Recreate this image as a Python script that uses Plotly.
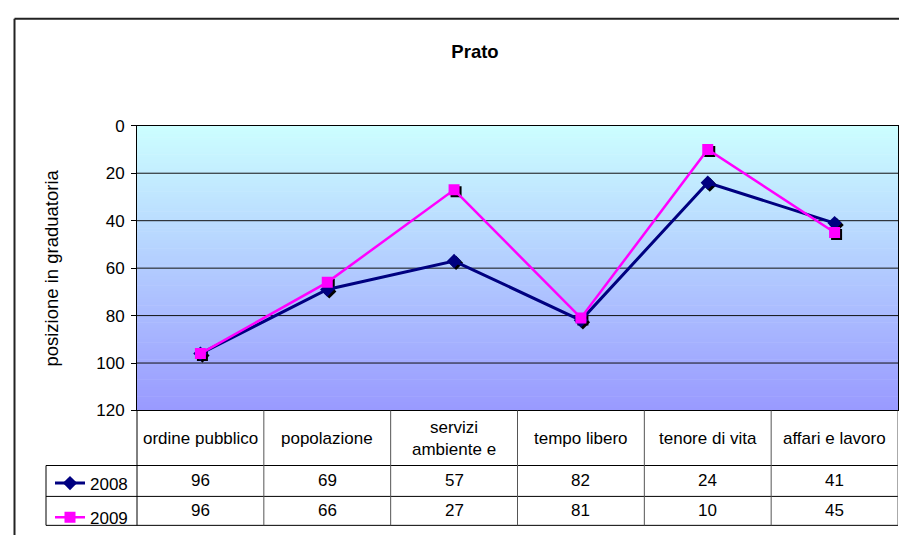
import plotly.graph_objects as go

# Data
categories = ["ordine pubblico", "popolazione", "servizi ambiente e",
              "tempo libero", "tenore di vita", "affari e lavoro"]
header_labels = ["ordine pubblico", "popolazione", "servizi<br>ambiente e",
                 "tempo libero", "tenore di vita", "affari e lavoro"]
years = ["2008", "2009"]
pos_2008 = [96, 69, 57, 82, 24, 41]
pos_2009 = [96, 66, 27, 81, 10, 45]
y_ticks = [0, 20, 40, 60, 80, 100, 120]

W, H = 899, 545
FONT = "Liberation Sans, Arial, sans-serif"
FS = 17  # base font size

# plot area and table geometry (pixels)
L, R, T, B = 137, 898, 121, 416
ROW1, ROW2, ROW3 = 473, 505, 535
TABLE_LEFT = 46
SHADOW = 2  # px offset of marker shadows


def px(x):
    return x / W


def py(y):
    return 1 - y / H


x_range = [-0.5, len(categories) - 0.5]
y_range = [120, 0]
dx = (x_range[1] - x_range[0]) / (R - L) * SHADOW
dy = (y_range[0] - y_range[1]) / (B - T) * SHADOW

fig = go.Figure()

series = [
    (years[0], pos_2008, "#000080", "diamond", 11, 3),
    (years[1], pos_2009, "#FF00FF", "square", 11, 2.5),
]

# shadows first, on the lower axes
for name, vals, color, symbol, size, lw in series:
    fig.add_trace(go.Scatter(
        x=categories, y=vals, mode="markers", showlegend=False, hoverinfo="skip",
        marker=dict(symbol=symbol, size=size, color="black"),
        xaxis="x", yaxis="y"))

for name, vals, color, symbol, size, lw in series:
    fig.add_trace(go.Scatter(
        x=categories, y=vals, mode="lines+markers", name=name, legendgroup=name,
        line=dict(color=color, width=lw),
        marker=dict(symbol=symbol, size=size, color=color),
        xaxis="x2", yaxis="y2"))

shapes = []

# gradient background of the plot area
top_c = (204, 255, 255)
bot_c = (153, 153, 255)
n_bands = 100
for k in range(n_bands):
    t = (k + 0.5) / n_bands
    c = tuple(round(a + (b - a) * t) for a, b in zip(top_c, bot_c))
    y0 = T + (B - T) * k / n_bands
    y1 = T + (B - T) * (k + 1) / n_bands + 0.6
    shapes.append(dict(type="rect", xref="paper", yref="paper", layer="below",
                       x0=px(L), x1=px(R), y0=py(min(y1, B)), y1=py(y0),
                       fillcolor="rgb(%d,%d,%d)" % c, line=dict(width=0)))

# horizontal gridlines
for v in y_ticks[1:-1]:
    shapes.append(dict(type="line", xref="paper", yref="y2", layer="below",
                       x0=px(L), x1=px(R), y0=v, y1=v,
                       line=dict(color="#111111", width=1)))

# data table lines
for yy in [ROW1, ROW2, ROW3]:
    shapes.append(dict(type="line", xref="paper", yref="paper",
                       x0=px(TABLE_LEFT), x1=px(R), y0=py(yy), y1=py(yy),
                       line=dict(color="black", width=1)))
shapes.append(dict(type="line", xref="paper", yref="paper",
                   x0=px(TABLE_LEFT), x1=px(TABLE_LEFT), y0=py(ROW1), y1=py(ROW3),
                   line=dict(color="black", width=1)))
shapes.append(dict(type="line", xref="paper", yref="paper",
                   x0=px(L), x1=px(L), y0=py(B), y1=py(ROW3),
                   line=dict(color="black", width=1)))
for k in range(1, len(categories) + 1):
    shapes.append(dict(type="line", xref="x2", yref="paper",
                       x0=k - 0.5, x1=k - 0.5, y0=py(B), y1=py(ROW3),
                       line=dict(color="#555555", width=1)))

# outer chart border
shapes.append(dict(type="line", xref="paper", yref="paper",
                   x0=px(14.5), x1=1, y0=py(10), y1=py(10),
                   line=dict(color="#222222", width=2)))
shapes.append(dict(type="line", xref="paper", yref="paper",
                   x0=px(14.5), x1=px(14.5), y0=py(10), y1=0,
                   line=dict(color="#222222", width=2)))

txt = dict(showarrow=False, xanchor="center", yanchor="middle",
           font=dict(family=FONT, size=FS, color="black"))
annotations = []
for cat, lab in zip(categories, header_labels):
    annotations.append(dict(x=cat, y=py((B + ROW1) / 2), xref="x2", yref="paper",
                            text=lab, **txt))
for vals, yy in [(pos_2008, (ROW1 + ROW2) / 2), (pos_2009, (ROW2 + ROW3) / 2)]:
    for cat, v in zip(categories, vals):
        annotations.append(dict(x=cat, y=py(yy), xref="x2", yref="paper",
                                text=str(v), **txt))
annotations.append(dict(x=px(52), y=py(269), xref="paper", yref="paper",
                        text="posizione in graduatoria", textangle=-90,
                        showarrow=False, xanchor="center", yanchor="middle",
                        font=dict(family=FONT, size=18.5, color="black")))

fig.update_layout(
    width=W, height=H,
    margin=dict(l=0, r=0, t=0, b=0),
    paper_bgcolor="white",
    plot_bgcolor="rgba(0,0,0,0)",
    font=dict(family=FONT, size=FS, color="black"),
    title=dict(text="<b>Prato</b>", x=px(475), y=py(52),
               xanchor="center", yanchor="middle",
               font=dict(family=FONT, size=18.5, color="black")),
    xaxis=dict(domain=[px(L), px(R)], range=[x_range[0] - dx, x_range[1] - dx],
               visible=False, type="category", categoryarray=categories),
    yaxis=dict(domain=[py(B), py(T)], range=[y_range[0] - dy, y_range[1] - dy],
               visible=False),
    xaxis2=dict(domain=[px(L), px(R)], range=x_range, overlaying="x",
                type="category", categoryarray=categories,
                showticklabels=False, ticks="", showgrid=False, zeroline=False,
                showline=True, linecolor="black", linewidth=1, mirror=True),
    yaxis2=dict(domain=[py(B), py(T)], range=y_range, overlaying="y",
                tickvals=y_ticks, ticks="outside", ticklen=5, tickcolor="black",
                ticklabelstandoff=3,
                showgrid=False, zeroline=False,
                showline=True, linecolor="black", linewidth=1, mirror=True,
                tickfont=dict(family=FONT, size=FS, color="black")),
    legend=dict(x=px(50), y=py(ROW1), xanchor="left", yanchor="top",
                traceorder="grouped", tracegroupgap=9,
                bgcolor="rgba(0,0,0,0)", borderwidth=0,
                font=dict(family=FONT, size=FS, color="black")),
    shapes=shapes,
    annotations=annotations,
)

fig.write_html("out.html", config={"displayModeBar": False},
               post_script="document.body.style.margin='0';")
